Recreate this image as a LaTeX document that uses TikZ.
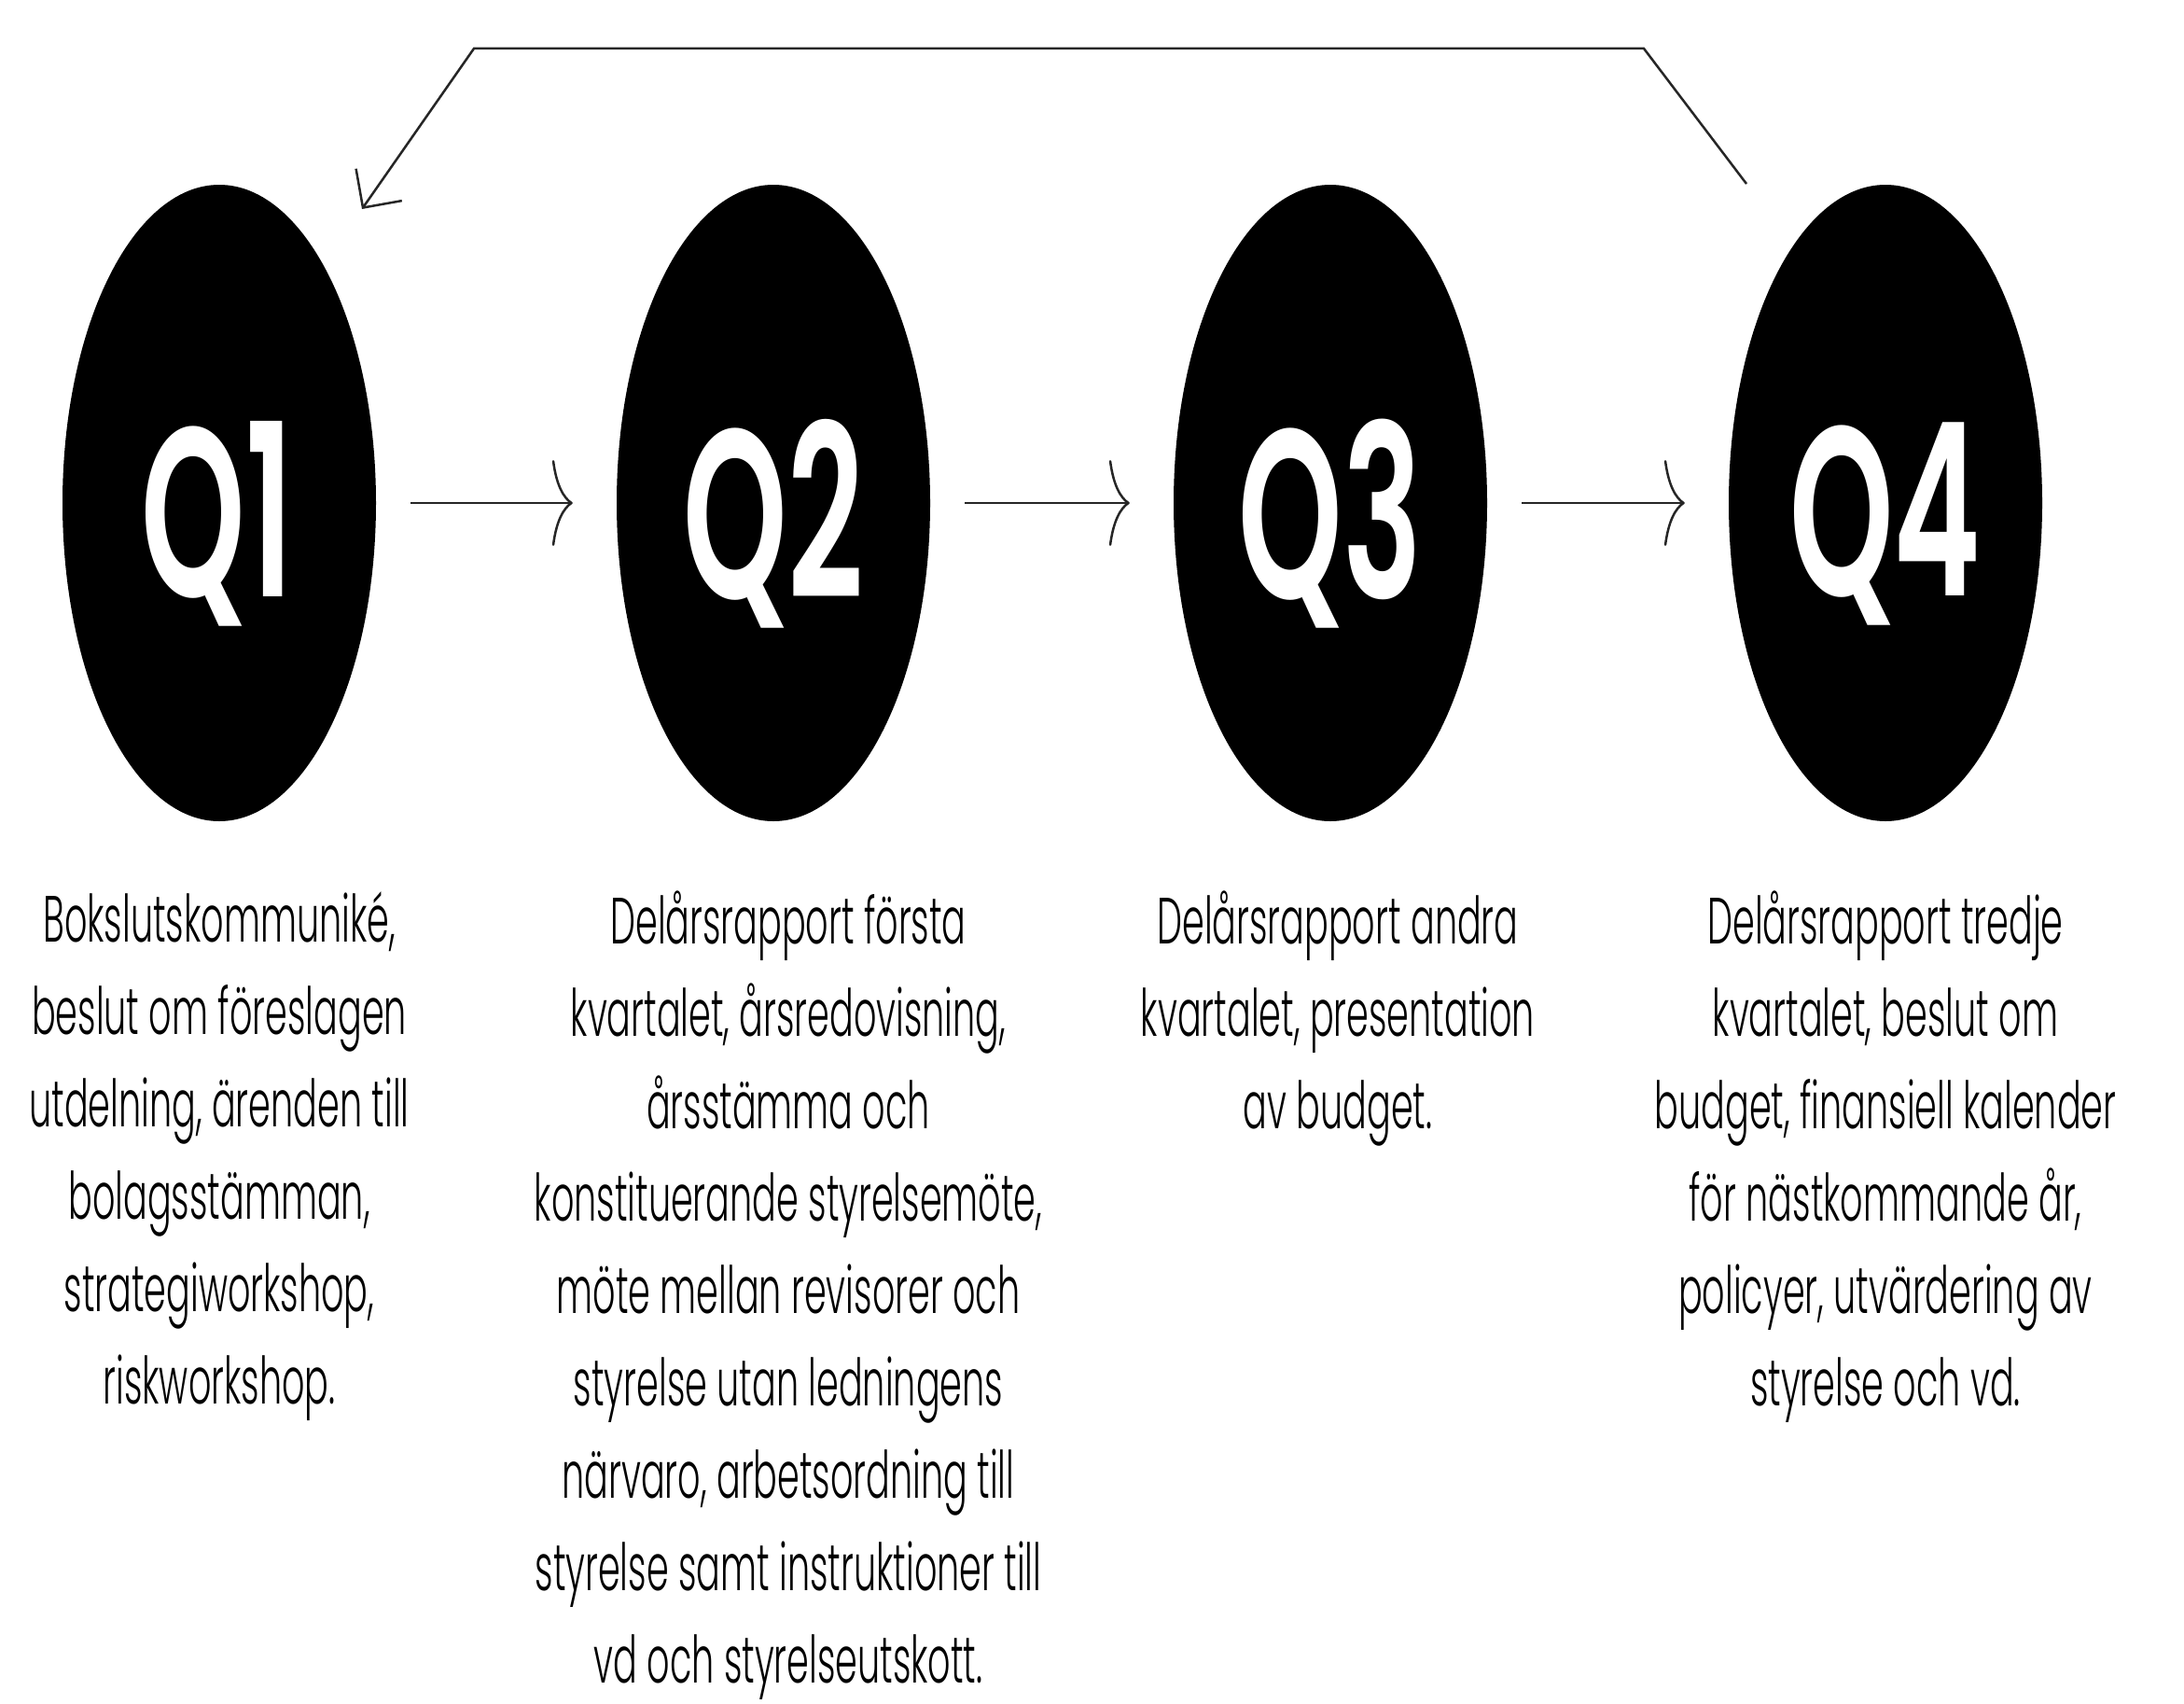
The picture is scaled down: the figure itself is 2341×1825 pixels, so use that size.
\documentclass[tikz,border=0pt]{standalone}
\usepackage{fontspec}
\usetikzlibrary{shapes.geometric,arrows.meta}
\newfontfamily\bodyfont[FakeStretch=0.545]{Poppins Light}
\newfontfamily\qfont[FakeStretch=0.55]{Poppins SemiBold}
\begin{document}
\begin{tikzpicture}[x=1pt,y=-1pt,
  qnode/.style={ellipse, fill=black, draw=none, minimum width=336pt, minimum height=682pt, inner sep=0pt},
  qlabel/.style={text=white, inner sep=0pt, font=\qfont\fontsize{258}{258}\selectfont},
  desc/.style={anchor=north, align=center, inner sep=0pt, text=black,
    font=\bodyfont\fontsize{70}{99}\selectfont},
  flow/.style={line width=2.5pt, draw=black!85,
    -{Computer Modern Rightarrow[length=22pt,width=92pt,line width=2.5pt]},
    shorten <=37pt, shorten >=47pt},
  back/.style={line width=2.5pt, draw=black!85,
    -{Straight Barb[length=30pt,width=60pt,line width=2.5pt]}}
]
\useasboundingbox[fill=white] (0,0) rectangle (2341,1825);

\node[qnode] (q1) at (235,539) {};
\node[qnode] (q2) at (829,539) {};
\node[qnode] (q3) at (1426,539) {};
\node[qnode] (q4) at (2021,539) {};
\node[qlabel] (l1) at (233,561) {Q1};
\node[qlabel] (l2) at (829,561) {Q2};
\node[qlabel] (l3) at (1426,561) {Q3};
\node[qlabel] (l4) at (2021,561) {Q4};

\draw[flow] (q1) -- (q2);
\draw[flow] (q2) -- (q3);
\draw[flow] (q3) -- (q4);

\coordinate (r4) at (1872,197);
\coordinate (c1) at (1762,52);
\coordinate (c2) at (508,52);
\coordinate (r1) at (388,224);
\draw[back] (r4) -- (c1) -- (c2) -- (r1);

\node[desc] (t1) at (235,955) {Bokslutskommuniké,\\beslut om föreslagen\\utdelning, ärenden till\\bolagsstämman,\\strategiworkshop,\\riskworkshop.};
\node[desc] (t2) at (845,955) {Delårsrapport första\\kvartalet, årsredovisning,\\årsstämma och\\konstituerande styrelsemöte,\\möte mellan revisorer och\\styrelse utan ledningens\\närvaro, arbetsordning till\\styrelse samt instruktioner till\\vd och styrelseutskott.};
\node[desc] (t3) at (1434,955) {Delårsrapport andra\\kvartalet, presentation\\av budget.};
\node[desc] (t4) at (2021,955) {Delårsrapport tredje\\kvartalet, beslut om\\budget, finansiell kalender\\för nästkommande år,\\policyer, utvärdering av\\styrelse och vd.};
\end{tikzpicture}
\end{document}
